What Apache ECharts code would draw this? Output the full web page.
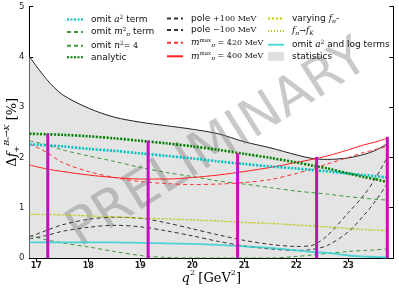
<!DOCTYPE html>
<html><head><meta charset="utf-8">
<script src="https://cdn.jsdelivr.net/npm/echarts@6/dist/echarts.min.js"></script>
<style>html,body{margin:0;padding:0;background:#fff}#c{width:399px;height:288px}</style>
</head><body><div id="c"></div>
<script>
const q2 = [16.87,17.2,17.5,18,18.5,19,19.5,20,20.5,21,21.5,22,22.3,22.6,23,23.3,23.5,23.75];
const statistics   = [4.0,3.55,3.25,2.98,2.80,2.70,2.63,2.56,2.47,2.31,2.19,2.05,1.98,1.96,1.99,2.06,2.13,2.27];
const analytic     = [2.47,2.46,2.45,2.42,2.38,2.33,2.28,2.22,2.15,2.07,1.99,1.90,1.84,1.78,1.68,1.61,1.57,1.51];
const omitA2       = [2.26,2.24,2.22,2.17,2.13,2.08,2.03,1.98,1.92,1.87,1.82,1.78,1.75,1.72,1.68,1.65,1.63,1.60];
const omitMpi2     = [2.33,2.25,2.15,2.03,1.92,1.80,1.70,1.62,1.53,1.47,1.40,1.33,1.30,1.27,1.22,1.19,1.17,1.15];
const omitN4       = [0.45,0.36,0.30,0.22,0.13,0.05,0.01,0.00,0.00,0.00,0.00,0.03,0.06,0.09,0.13,0.15,0.16,0.18];
const mpi420       = [2.27,2.10,1.90,1.72,1.60,1.52,1.48,1.46,1.47,1.50,1.56,1.68,1.77,1.87,2.00,2.10,2.15,2.22];
const mpi400       = [1.85,1.77,1.72,1.65,1.60,1.57,1.57,1.60,1.65,1.72,1.80,1.90,1.96,2.03,2.15,2.25,2.30,2.38];
const polePlus     = [0.42,0.55,0.66,0.77,0.81,0.79,0.70,0.58,0.46,0.35,0.27,0.23,0.25,0.45,0.90,1.25,1.55,2.00];
const poleMinus    = [0.38,0.45,0.53,0.61,0.65,0.62,0.54,0.44,0.33,0.24,0.18,0.15,0.17,0.25,0.52,0.85,1.10,1.48];
const varyFpi      = [0.87,0.87,0.86,0.84,0.82,0.80,0.78,0.76,0.74,0.71,0.69,0.66,0.64,0.62,0.59,0.57,0.56,0.54];
const fpiToFK      = [0.86,0.86,0.85,0.83,0.81,0.79,0.77,0.75,0.73,0.70,0.68,0.65,0.63,0.61,0.58,0.56,0.55,0.53];
const omitA2Log    = [0.31,0.31,0.31,0.31,0.31,0.30,0.29,0.28,0.26,0.23,0.20,0.15,0.12,0.10,0.05,0.03,0.02,0.01];
const dataX = [17.22,19.15,20.87,22.39,23.75];
const dataY = [2.47,2.33,2.08,2.01,2.41];
const xTicks = [17,18,19,20,21,22,23];
const yTicks = [0,1,2,3,4,5];

const pairs = arr => q2.map((x,i)=>[x,arr[i]]);
const SANS = '"DejaVu Sans"';
const SERIF = '"DejaVu Serif"';

function line(name, arr, color, type, width, z, opacity){
  return {name, type:'line', data:pairs(arr), symbol:'none', smooth:0.3, z:z||3,
    lineStyle:{color, type, width, opacity: opacity==null?1:opacity}, itemStyle:{color}};
}

const series = [
  {name:'statistics', type:'line', data:pairs(statistics), symbol:'none', smooth:0.3, z:1,
   lineStyle:{color:'#222', width:1}, itemStyle:{color:'#e2e2e2'}, areaStyle:{color:'#e4e4e4', opacity:1}},
  line('omit a2', omitA2, '#00bfbf', [2,1.5], 2.6, 4),
  line('omit mpi2', omitMpi2, '#3a9a3a', [4,3], 1, 3),
  line('omit n4', omitN4, '#3a9a3a', [4,3], 1, 3),
  line('analytic', analytic, '#008000', [2,1.5], 2.6, 4),
  line('pole+', polePlus, '#333', [4,3], 1, 3),
  line('pole-', poleMinus, '#333', [4,3], 1, 3),
  line('mpi420', mpi420, '#ff3030', [4,3], 1, 3),
  line('mpi400', mpi400, '#ff2020', 'solid', 1, 3),
  line('varyfpi', varyFpi, '#c8c800', [2,2], 1, 3),
  line('fpifk', fpiToFK, '#b8c820', [1,2], 1, 3),
  line('omitlog', omitA2Log, '#30d0d0', 'solid', 1.8, 3, 0.85),
  {name:'data', type:'bar', data:dataX.map((x,i)=>[x,dataY[i]]), barWidth:3, z:6,
   itemStyle:{color:'#c010c0'}}
];

const labels = {
  'omit a2':'{t|omit }{i|a}{p|2}{t| term}',
  'omit mpi2':'{t|omit }{i|m}{sp|2}{sb|π}{t| term}',
  'omit n4':'{t|omit }{i|n}{p|2}{m|= 4}',
  'analytic':'{t|analytic}',
  'pole+':'{t|pole }{m|+100 MeV}',
  'pole-':'{t|pole }{m|−100 MeV}',
  'mpi420':'{i|m}{sp|max}{sb|π}{m| = 420 MeV}',
  'mpi400':'{i|m}{sp|max}{sb|π}{m| = 400 MeV}',
  'varyfpi':'{t|varying }{i|f}{sb|π}{t|-}',
  'fpifk':'{i|f}{sb|π}{m|→}{i|f}{sb|K}',
  'omitlog':'{t|omit }{i|a}{p|2}{t| and log terms}',
  'statistics':'{t|statistics}'
};
const rich = {
  t:{fontFamily:SANS, fontSize:9, color:'#111', lineHeight:11, verticalAlign:'middle'},
  i:{fontFamily:SERIF, fontStyle:'italic', fontSize:9, color:'#111', lineHeight:11, verticalAlign:'middle'},
  m:{fontFamily:SERIF, fontSize:8, color:'#111', lineHeight:11, verticalAlign:'middle'},
  p:{fontFamily:SERIF, fontSize:6, color:'#111', lineHeight:11, verticalAlign:'top'},
  sp:{fontFamily:SERIF, fontSize:5.5, color:'#111', lineHeight:11, verticalAlign:'top'},
  sb:{fontFamily:SERIF, fontStyle:'italic', fontSize:6, color:'#111', lineHeight:11, verticalAlign:'bottom'}
};
function legend(left, data){
  return {orient:'vertical', left, top:9, itemWidth:16, itemHeight:9, itemGap:2.6,
    data, formatter:n=>labels[n], textStyle:{rich, padding:[0,0,0,3]}, selectedMode:false,
    itemStyle:{opacity:0}};
}
const legends = [
  legend(61, ['omit a2','omit mpi2','omit n4','analytic']),
  legend(161, ['pole+','pole-','mpi420','mpi400']),
  legend(262, ['varyfpi','fpifk','omitlog',{name:'statistics', icon:'rect', itemStyle:{color:'#e0e0e0', opacity:1}}])
];

const chart = echarts.init(document.getElementById('c'), null, {renderer:'canvas'});
chart.setOption({
  animation:false,
  backgroundColor:'#fff',
  grid:{left:29.3, right:5.7, top:6.5, bottom:30, containLabel:false, outerBoundsMode:'none'},
  legend: legends,
  xAxis:[{type:'value', min:16.865, max:23.865, position:'bottom',
    axisLine:{show:true, lineStyle:{color:'#000', width:1}},
    axisTick:{show:true, inside:true, length:4, customValues:xTicks, lineStyle:{color:'#000'}},
    axisLabel:{customValues:xTicks, fontFamily:SANS, fontSize:8, fontWeight:'bold', color:'#222', margin:4},
    splitLine:{show:false},
    name:'{i|q}{s|2} {r|[GeV}{s|2}{r|]}', nameLocation:'middle', nameGap:11, nameMoveOverlap:false,
    nameTextStyle:{rich:{
      i:{fontFamily:SERIF, fontStyle:'italic', fontSize:13, color:'#000', lineHeight:16, verticalAlign:'bottom'},
      r:{fontFamily:SERIF, fontSize:13, color:'#000', lineHeight:16, verticalAlign:'bottom'},
      s:{fontFamily:SERIF, fontSize:8, color:'#000', lineHeight:16, verticalAlign:'top'}}}},
   {type:'value', min:16.865, max:23.865, position:'top',
    axisLine:{show:true, lineStyle:{color:'#000'}},
    axisTick:{show:true, inside:true, length:4, customValues:xTicks, lineStyle:{color:'#000'}},
    axisLabel:{show:false}, splitLine:{show:false}}],
  yAxis:[{type:'value', min:0, max:5, interval:1, position:'left',
    axisLine:{show:true, lineStyle:{color:'#000'}},
    axisTick:{show:true, inside:true, length:4, lineStyle:{color:'#000'}},
    axisLabel:{fontFamily:SANS, fontSize:8.5, color:'#222', margin:5},
    splitLine:{show:false},
    name:'{d|Δ}{f|f}{sb|+}{sp|Bₛ→K}{r| [%]}', nameLocation:'middle', nameGap:8, nameRotate:90, nameMoveOverlap:false,
    nameTextStyle:{rich:{
      d:{fontFamily:SERIF, fontSize:13, color:'#000', lineHeight:18, verticalAlign:'middle'},
      f:{fontFamily:SERIF, fontStyle:'italic', fontSize:13, color:'#000', lineHeight:18, verticalAlign:'middle'},
      sb:{fontFamily:SERIF, fontSize:8, color:'#000', lineHeight:18, verticalAlign:'bottom'},
      sp:{fontFamily:SERIF, fontStyle:'italic', fontSize:8, color:'#000', lineHeight:18, verticalAlign:'top'},
      r:{fontFamily:SERIF, fontSize:13, color:'#000', lineHeight:18, verticalAlign:'middle'}}}},
   {type:'value', min:0, max:5, interval:1, position:'right',
    axisLine:{show:true, lineStyle:{color:'#000'}},
    axisTick:{show:true, inside:true, length:4, lineStyle:{color:'#000'}},
    axisLabel:{show:false}, splitLine:{show:false}}],
  graphic:[{type:'text', x:218, y:145, rotation:0.56, z:2, silent:true,
    style:{text:'PRELIMINARY', font:'52px "DejaVu Sans"', fill:'rgba(120,120,120,0.4)',
      textAlign:'center', textVerticalAlign:'middle'}}],
  series
});
</script></body></html>
